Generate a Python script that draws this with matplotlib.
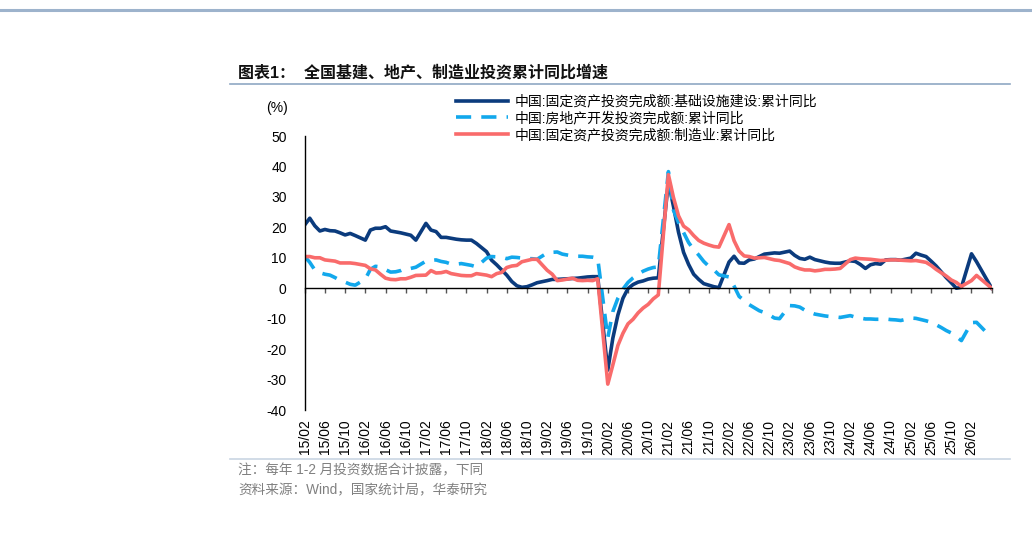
import matplotlib
matplotlib.use('Agg')
import matplotlib.pyplot as plt
from matplotlib.lines import Line2D

plt.rcParams['font.family'] = ['Liberation Sans', 'Noto Sans CJK SC', 'DejaVu Sans']
plt.rcParams['axes.unicode_minus'] = False

# monthly dates, Jan-Feb reported together so no January points
years = ['15', '16', '17', '18', '19', '20', '21', '22', '23', '24', '25']
months = ['02', '03', '04', '05', '06', '07', '08', '09', '10', '11', '12']
dates = [y + '/' + m for y in years for m in months] + ['26/02', '26/03', '26/06']

# 中国:固定资产投资完成额:基础设施建设:累计同比
infra = [20.8, 23.0, 20.5, 18.8, 19.3, 18.9, 18.8, 18.2, 17.5, 18.0, 17.3,
         15.8, 19.1, 19.7, 19.7, 20.2, 18.8, 18.5, 18.2, 17.8, 17.4, 15.8,
         21.3, 19.1, 18.6, 16.7, 16.7, 16.4, 16.1, 15.9, 15.8, 15.8, 14.7,
         12.0, 9.2, 7.7, 6.0, 4.3, 2.2, 0.8, 0.3, 0.5, 1.1, 1.8,
         2.5, 2.9, 2.9, 3.0, 3.1, 3.2, 3.3, 3.5, 3.7, 3.8, 3.8,
         -26.9, -16.4, -8.8, -3.3, -0.1, 1.2, 2.0, 2.4, 3.0, 3.3, 3.4,
         35.0, 26.9, 18.4, 11.8, 7.8, 4.6, 2.9, 1.5, 1.0, 0.5, 0.2,
         8.6, 10.5, 8.3, 8.2, 9.3, 9.6, 10.4, 11.2, 11.4, 11.6, 11.5,
         12.2, 10.8, 9.8, 9.5, 10.2, 9.4, 9.0, 8.6, 8.3, 8.2, 8.2,
         9.0, 8.8, 7.8, 6.5, 7.7, 8.1, 7.9, 9.3, 9.4, 9.4, 9.2,
         9.9, 11.5, 10.9, 10.4, 8.9, 7.3, 5.4, 3.5, 1.8, 0.0, 0.3,
         11.3, 8.7, 0.0]

# 中国:房地产开发投资完成额:累计同比
estate = [10.4, 8.5, 6.0, 5.1, 4.6, 4.3, 3.5, 2.6, 2.0, 1.3, 1.0,
          3.0, 6.2, 7.2, 7.0, 6.1, 5.3, 5.4, 5.8, 6.6, 6.5, 6.9,
          8.9, 9.1, 9.3, 8.8, 8.5, 7.9, 7.9, 8.1, 7.8, 7.5, 7.0,
          9.9, 10.4, 10.3, 10.2, 9.7, 10.2, 10.1, 9.9, 9.7, 9.7, 9.5,
          11.6, 11.8, 11.9, 11.2, 10.9, 10.6, 10.5, 10.5, 10.3, 10.2, 9.9,
          -16.3, -7.7, -3.3, -0.3, 1.9, 3.4, 4.6, 5.6, 6.3, 6.8, 7.0,
          38.3, 25.6, 21.6, 18.3, 15.0, 12.7, 10.9, 8.8, 7.2, 6.0, 4.4,
          3.7, 0.7, -2.7, -4.0, -5.4, -6.4, -7.4, -8.0, -8.8, -9.8, -10.0,
          -5.7, -5.8, -6.2, -7.2, -7.9, -8.5, -8.8, -9.1, -9.3, -9.4, -9.6,
          -9.0, -9.5, -9.8, -10.1, -10.1, -10.2, -10.2, -10.1, -10.3, -10.4, -10.6,
          -9.8, -9.9, -10.3, -10.7, -11.2, -12.0, -12.9, -13.9, -14.7, -15.9, -17.2,
          -11.3, -11.2, -16.3]

# 中国:固定资产投资完成额:制造业:累计同比
manu = [10.4, 10.4, 10.0, 10.0, 9.3, 9.1, 8.9, 8.3, 8.3, 8.3, 8.1,
        7.5, 6.4, 6.0, 4.6, 3.3, 2.9, 2.8, 3.1, 3.1, 3.6, 4.2,
        4.3, 5.8, 5.0, 5.1, 5.5, 4.8, 4.5, 4.2, 4.1, 4.1, 4.8,
        4.3, 3.8, 4.8, 5.2, 6.8, 7.3, 7.5, 8.7, 9.1, 9.5, 9.5,
        5.9, 4.6, 2.5, 2.7, 3.0, 3.3, 2.6, 2.5, 2.6, 2.5, 3.1,
        -31.5, -25.2, -18.8, -14.8, -11.7, -10.2, -8.1, -6.5, -5.3, -3.5, -2.2,
        37.3, 29.8, 23.8, 20.4, 19.2, 17.3, 15.7, 14.8, 14.2, 13.7, 13.5,
        20.9, 15.6, 12.2, 10.6, 10.4, 9.9, 10.0, 10.1, 9.7, 9.3, 9.1,
        8.1, 7.0, 6.4, 6.0, 6.0, 5.7, 5.9, 6.2, 6.2, 6.3, 6.5,
        9.4, 9.9, 9.7, 9.6, 9.5, 9.3, 9.1, 9.2, 9.3, 9.3, 9.2,
        9.0, 9.1, 8.8, 8.5, 7.5, 6.2, 5.1, 4.0, 2.7, 1.9, 0.6,
        2.5, 4.2, 0.0]

tick_dates = [y + '/' + m for y in years + ['26'] for m in ['02', '06', '10']]
tick_labels = tick_dates[:-2]   # 15/02 ... 26/02, last tick 26/06 unlabeled
tick_dates = tick_dates[:-1]

series_names = ['中国:固定资产投资完成额:基础设施建设:累计同比',
                '中国:房地产开发投资完成额:累计同比',
                '中国:固定资产投资完成额:制造业:累计同比']


def month_index(d):
    yy, mm = d.split('/')
    return (int(yy) - 15) * 12 + int(mm) - 2


x = [month_index(d) for d in dates]
xt = [month_index(d) for d in tick_dates]

W, H = 1032, 541
fig = plt.figure(figsize=(W / 100, H / 100), dpi=100)
ax = fig.add_axes([304.7 / W, 1 - 410 / H, (991.7 - 304.7) / W, (410 - 136) / H])

lw = 2.6
ax.plot(x, infra, color='#0b3b7d', lw=lw, solid_joinstyle='round', label=series_names[0])
ax.plot(x, estate, color='#12a8ec', lw=lw, dashes=(4.2, 2.8), label=series_names[1])
ax.plot(x, manu, color='#f96b6b', lw=lw, solid_joinstyle='round', label=series_names[2])

ax.set_xlim(0, xt[-1])
ax.set_ylim(-40, 50)
ax.set_yticks(range(-40, 51, 10))
ax.tick_params(axis='y', length=0, pad=13, labelsize=10)
for s in ['top', 'right']:
    ax.spines[s].set_visible(False)
ax.spines['left'].set_linewidth(1.0)
ax.spines['bottom'].set_position(('data', 0))
ax.spines['bottom'].set_linewidth(1.0)
ax.set_xticks(xt)
ax.tick_params(axis='x', direction='out', length=3.5, width=1.0, color='#555555',
               labelbottom=False)
for p, lab in zip(xt, tick_labels):
    ax.text(p, -0.035, lab, transform=ax.get_xaxis_transform(), rotation=90,
            ha='center', va='top', fontsize=10)

leg = ax.legend(loc='upper left', bbox_to_anchor=(456 / W, 1 - 94.5 / H),
                bbox_transform=fig.transFigure, frameon=False, fontsize=10,
                handlelength=3.75, handletextpad=0.45, labelspacing=0.2, borderpad=0,
                borderaxespad=0)

fig.text(277 / W, 1 - 108 / H, '(%)', ha='center', va='center', fontsize=10)

fig.text(238 / W, 1 - 72.5 / H, '图表1：  全国基建、地产、制造业投资累计同比增速',
         fontsize=11.5, fontweight='bold', va='center', color='#111111')

fig.add_artist(Line2D([230 / W, 1010 / W], [1 - 83.5 / H] * 2, transform=fig.transFigure,
                      color='#8fa8c4', lw=1.2))
fig.add_artist(Line2D([230 / W, 1010 / W], [1 - 458.5 / H] * 2, transform=fig.transFigure,
                      color='#c9d5e3', lw=1.2))
fig.add_artist(Line2D([0, 1], [1 - 9.5 / H] * 2, transform=fig.transFigure,
                      color='#9db3cc', lw=2.2))

fig.text(238 / W, 1 - 470 / H, '注：每年 1-2 月投资数据合计披露，下同',
         fontsize=9.8, color='#808080', va='center')
fig.text(238 / W, 1 - 490 / H, '资料来源：Wind，国家统计局，华泰研究',
         fontsize=9.8, color='#808080', va='center')

fig.savefig('out.png', dpi=100)
